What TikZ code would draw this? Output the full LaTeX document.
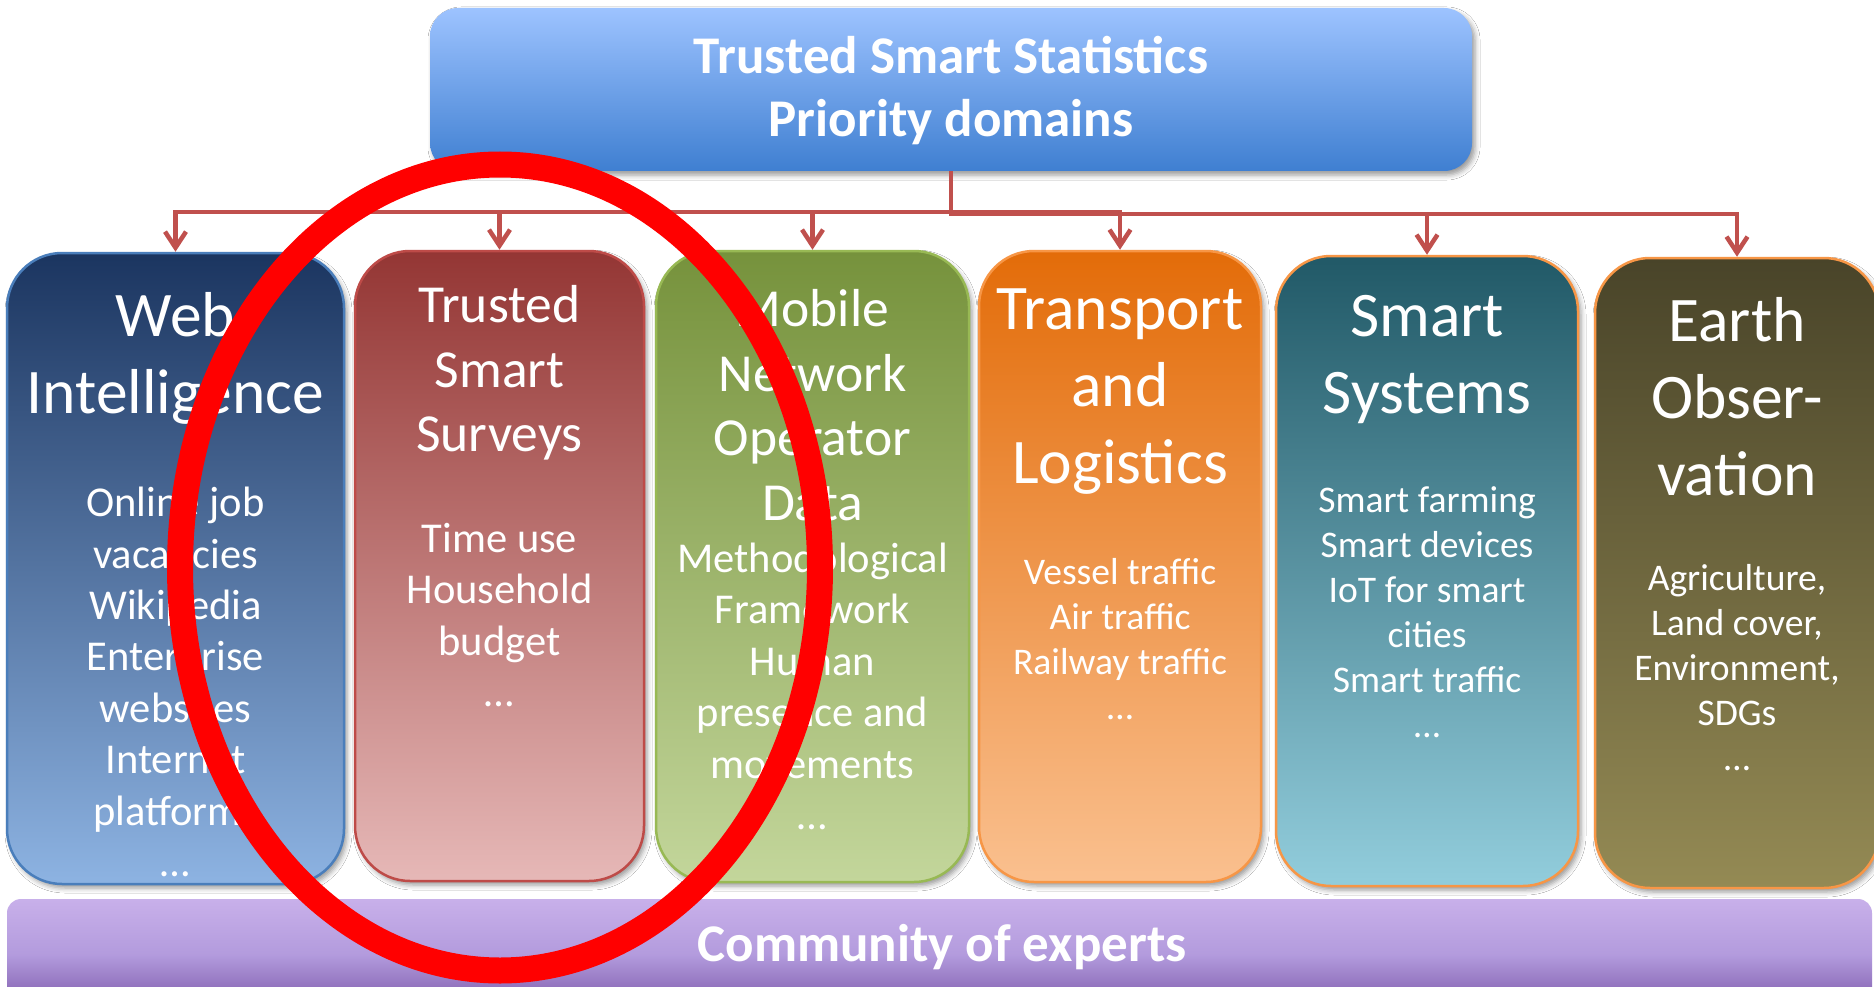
\documentclass[tikz,border=0pt]{standalone}
\usepackage{fontspec}
\setmainfont{Carlito}
\usetikzlibrary{arrows.meta,shadows.blur}
\definecolor{conncol}{HTML}{C0504D}
\definecolor{topA}{HTML}{9DC3FF}\definecolor{topB}{HTML}{3F7FD1}
\definecolor{webA}{HTML}{1B3560}\definecolor{webB}{HTML}{8DB3E2}\definecolor{webL}{HTML}{4A7EBB}
\definecolor{surA}{HTML}{943634}\definecolor{surB}{HTML}{E6B8B7}\definecolor{surL}{HTML}{BE4B48}
\definecolor{mobA}{HTML}{76923C}\definecolor{mobB}{HTML}{C3D69B}\definecolor{mobL}{HTML}{98B954}
\definecolor{traA}{HTML}{E36C09}\definecolor{traB}{HTML}{FAC08F}\definecolor{oraL}{HTML}{F79646}
\definecolor{smaA}{HTML}{215967}\definecolor{smaB}{HTML}{92CDDC}
\definecolor{eartA}{HTML}{494429}\definecolor{eartB}{HTML}{948A54}
\definecolor{bandA}{HTML}{C8B0EA}\definecolor{bandM}{HTML}{B39BDD}\definecolor{bandB}{HTML}{7B57A8}
\begin{document}
\begin{tikzpicture}[x=1pt,y=-1pt,
  colbox/.style={draw, line width=2.5pt, rounded corners=55pt, inner sep=0pt,
    blur shadow={shadow xshift=3pt, shadow yshift=-4pt, shadow blur radius=5pt, shadow opacity=40}},
  conn/.style={draw=conncol, line width=4.5pt, -{Straight Barb[length=16pt,width=21pt]}},
  bigttl/.style={text=white, align=center, inner sep=0pt, font=\fontsize{63.5}{77}\selectfont},
  midttl/.style={text=white, align=center, inner sep=0pt, font=\fontsize{53.5}{64.5}\selectfont},
  bigbody/.style={text=white, align=center, inner sep=0pt, font=\fontsize{42.5}{51.4}\selectfont},
  smlbody/.style={text=white, align=center, inner sep=0pt, font=\fontsize{37.6}{45}\selectfont},
  boldttl/.style={text=white, align=center, inner sep=0pt, font=\bfseries\fontsize{53}{63}\selectfont}
]
\useasboundingbox (0,0) rectangle (1874,987);
\fill[white] (0,0) rectangle (1874,987);

% top box
\node[draw=none, rounded corners=28pt, top color=topA, bottom color=topB,
  minimum width=1042pt, minimum height=163pt, inner sep=0pt,
  blur shadow={shadow xshift=3pt, shadow yshift=-4pt, shadow blur radius=5pt, shadow opacity=40}]
  (top) at (951,89.5) {};
\node[boldttl] (toptext) at (951,91) {Trusted Smart Statistics\\Priority domains};

% column boxes
\node[colbox, draw=webL, top color=webA, bottom color=webB, minimum width=337pt, minimum height=631pt] (web) at (175.5,568.5) {};
\node[colbox, draw=surL, top color=surA, bottom color=surB, minimum width=289pt, minimum height=630pt] (sur) at (499.5,566) {};
\node[colbox, draw=mobL, top color=mobA, bottom color=mobB, minimum width=313pt, minimum height=631pt] (mob) at (812.5,566.5) {};
\node[colbox, draw=oraL, top color=traA, bottom color=traB, minimum width=282pt, minimum height=631pt] (tra) at (1120,566.5) {};
\node[colbox, draw=oraL, top color=smaA, bottom color=smaB, minimum width=302pt, minimum height=630pt] (sma) at (1427,571) {};
\node[colbox, draw=oraL, top color=eartA, bottom color=eartB, minimum width=284pt, minimum height=630pt] (eart) at (1737,573) {};

% bottom band
\node[draw=none, rounded corners=14pt, top color=bandA, bottom color=bandB, middle color=bandM,
  minimum width=1865pt, minimum height=111pt, inner sep=0pt] (band) at (939.5,954.5) {};
\node[boldttl] (bandtext) at (942,947) {Community of experts};

% connectors
\draw[conn] (top.south) -- ++(0,41) -| (web.north);
\draw[conn] (top.south) -- ++(0,41) -| (sur.north);
\draw[conn] (top.south) -- ++(0,41) -| (mob.north);
\draw[conn] (top.south) -- ++(0,41) -| (tra.north);
\draw[conn] (top.south) -- ++(0,43) -| (sma.north);
\draw[conn] (top.south) -- ++(0,43) -| (eart.north);

% texts
\node[bigttl] (webT) at (175.5,358) {Web\\Intelligence};
\node[bigbody] (webX) at (175.5,682) {Online job\\vacancies\\Wikipedia\\Enterprise\\websites\\Internet\\platforms\\…};
\node[midttl] (surT) at (499.5,373) {Trusted\\Smart\\Surveys};
\node[bigbody] (surX) at (499.5,615) {Time use\\Household\\budget\\…};
\node[midttl] (mobT) at (812.5,405) {Mobile\\Network\\Operator\\Data};
\node[bigbody] (mobX) at (812.5,686.5) {Methodological\\Framework\\Human\\presence and\\movements\\…};
\node[bigttl] (traT) at (1120,392) {Transport\\and\\Logistics};
\node[smlbody] (traX) at (1120,639) {Vessel traffic\\Air traffic\\Railway traffic\\…};
\node[bigttl] (smaT) at (1427,360) {Smart\\Systems};
\node[smlbody] (smaX) at (1427,612) {Smart farming\\Smart devices\\IoT for smart\\cities\\Smart traffic\\…};
\node[bigttl] (eartT) at (1737,397) {Earth\\Obser-\\vation};
\node[smlbody] (eartX) at (1737,668) {Agriculture,\\Land cover,\\Environment,\\SDGs\\…};

% red ellipse
\draw[red, line width=26pt] (500,567.5) ellipse [x radius=320, y radius=403];
\end{tikzpicture}
\end{document}
